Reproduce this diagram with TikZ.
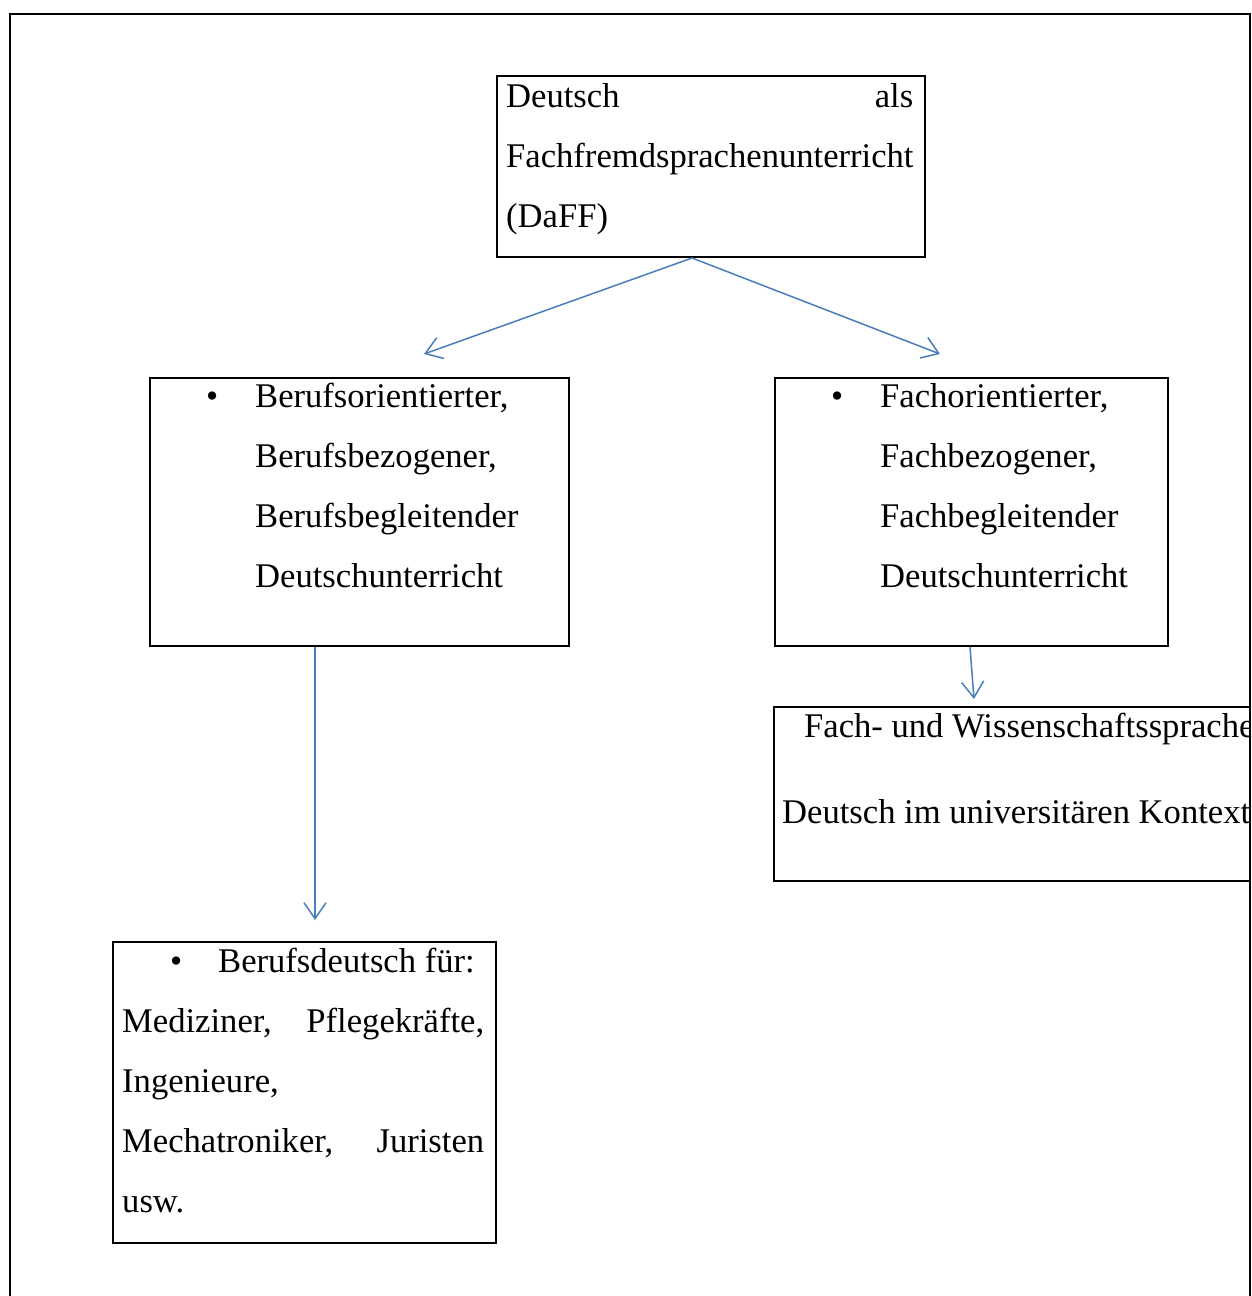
\documentclass[tikz,border=0pt]{standalone}
\usepackage{fontspec}
\setmainfont{Liberation Serif}
\usetikzlibrary{arrows.meta}
\definecolor{linkblue}{RGB}{74,126,187}
\begin{document}
\begin{tikzpicture}[x=1pt,y=-1pt,
  frame/.style={draw=black,line width=2pt},
  textbox/.style={draw=black,line width=1.8pt,rectangle,inner sep=0pt,anchor=north west},
  line/.style={anchor=base west,inner sep=0pt,font=\fontsize{34.6}{40}\selectfont},
  link/.style={draw=linkblue,line width=1.5pt,-{Straight Barb[length=16pt,width=22pt]}}]
  \useasboundingbox (0,0) rectangle (1252,1296);
  \begin{scope}
    \clip (0,0) rectangle (1252,1296);
    % page frame, open at the bottom
    \draw[frame] (10,1310) -- (10,14) -- (1250,14) -- (1250,1310);
  \end{scope}

  % top box
  \node[textbox,minimum width=428pt,minimum height=181pt] (top) at (496,75) {};
  \node[line] (t1) at (506,107) {\hbox to 407pt{Deutsch\hfill als}};
  \node[line] (t2) at (506,167) {Fachfremdsprachenunterricht};
  \node[line] (t3) at (506,227) {(DaFF)};

  % left box
  \node[textbox,minimum width=419pt,minimum height=268pt] (left) at (149,377) {};
  \node[line] (lb) at (206,407) {•};
  \node[line] (l1) at (255,407) {Berufsorientierter,};
  \node[line] (l2) at (255,467) {Berufsbezogener,};
  \node[line] (l3) at (255,527) {Berufsbegleitender};
  \node[line] (l4) at (255,587) {Deutschunterricht};

  % right box
  \node[textbox,minimum width=393pt,minimum height=268pt] (right) at (774,377) {};
  \node[line] (rb) at (831,407) {•};
  \node[line] (r1) at (880,407) {Fachorientierter,};
  \node[line] (r2) at (880,467) {Fachbezogener,};
  \node[line] (r3) at (880,527) {Fachbegleitender};
  \node[line] (r4) at (880,587) {Deutschunterricht};

  % bottom left box
  \node[textbox,minimum width=383pt,minimum height=301pt] (job) at (112,941) {};
  \node[line] (jb) at (170,972) {•};
  \node[line] (j1) at (218,972) {Berufsdeutsch für:};
  \node[line] (j2) at (122,1032) {\hbox to 362pt{Mediziner,\hfill Pflegekräfte,}};
  \node[line] (j3) at (122,1092) {Ingenieure,};
  \node[line] (j4) at (122,1152) {\hbox to 362pt{Mechatroniker,\hfill Juristen}};
  \node[line] (j5) at (122,1212) {usw.};

  % bottom right box, cut off by the page frame
  \begin{scope}
    \clip (760,690) rectangle (1249,895);
    \node[textbox,minimum width=520pt,minimum height=174pt] (uni) at (773,706) {};
    \node[line] (u1) at (804,737) {Fach- und Wissenschaftssprache};
    \node[line] (u2) at (782,823) {Deutsch im universitären Kontext};
  \end{scope}

  % connectors
  \coordinate (split) at (692,258);
  \coordinate (leftin) at (424,354);
  \coordinate (rightin) at (940,354);
  \coordinate (leftout) at (315,647);
  \coordinate (jobin) at (315,920);
  \coordinate (rightout) at (970,647);
  \coordinate (uniin) at (974,699);
  \draw[link] (split) -- (leftin);
  \draw[link] (split) -- (rightin);
  \draw[link] (leftout) -- (jobin);
  \draw[link] (rightout) -- (uniin);
\end{tikzpicture}
\end{document}
